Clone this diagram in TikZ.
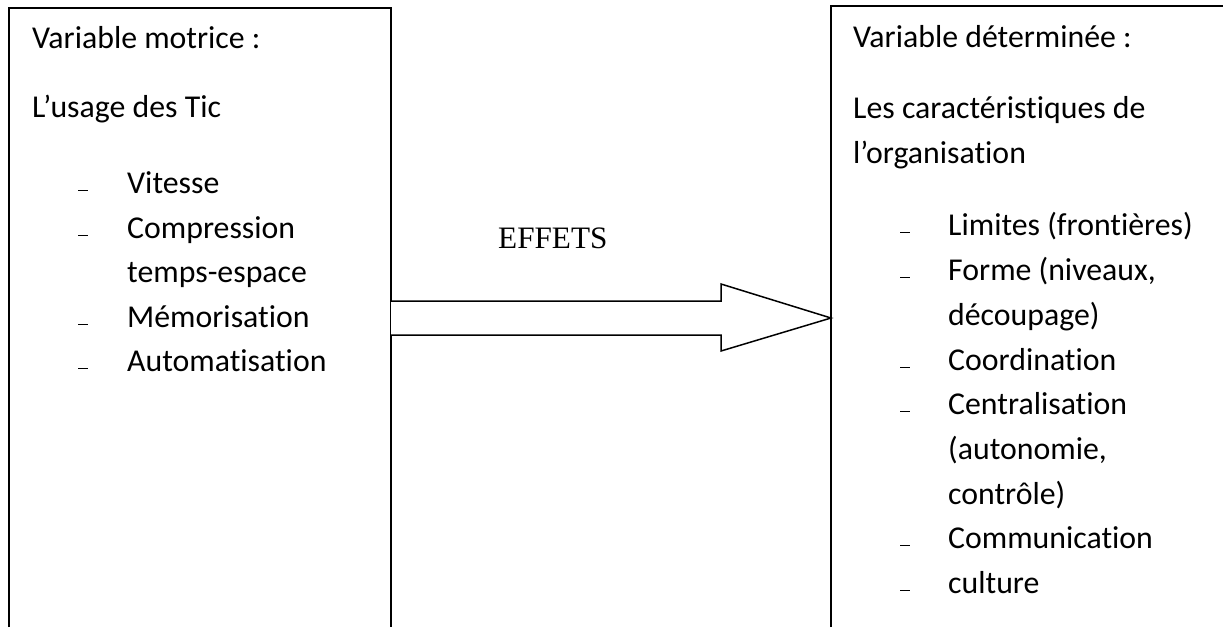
\documentclass[tikz,border=0pt]{standalone}
\usepackage{fontspec}
\setmainfont{Carlito}[Ligatures=NoCommon]
\newfontfamily\timesfont{Liberation Serif}
\begin{document}
\begin{tikzpicture}[x=1pt,y=-1pt,
  txt/.style={anchor=base west,inner sep=0pt,font=\fontsize{31.8}{44}\selectfont},
  frame/.style={line width=1.5pt,black},
  bul/.style={line width=1.6pt},
  arrowshape/.style={line width=1.5pt,fill=white,line join=miter}]
\useasboundingbox (0,0) rectangle (1223,627);
% boxes (open at the bottom / right)
\coordinate (Lbl) at (9,627);
\coordinate (Ltl) at (9,8);
\coordinate (Ltr) at (391,8);
\coordinate (Lbr) at (391,627);
\coordinate (Rbl) at (831,627);
\coordinate (Rtl) at (831,6);
\coordinate (Rtr) at (1223,6);
\draw[frame] (Lbl) -- (Ltl) -- (Ltr) -- (Lbr);
\draw[frame] (Rbl) -- (Rtl) -- (Rtr);
% block arrow
\coordinate (A1) at (391,301);
\coordinate (A2) at (721,301);
\coordinate (A3) at (721,284);
\coordinate (A4) at (831,318);
\coordinate (A5) at (721,351);
\coordinate (A6) at (721,335);
\coordinate (A7) at (391,335);
\draw[arrowshape] (A1) -- (A2) -- (A3) -- (A4) -- (A5) -- (A6) -- (A7);
\node[anchor=base west,inner sep=0pt,font=\timesfont\fontsize{31.2}{36}\selectfont] (effets) at (498,248) {EFFETS};
% left text
\node[txt] (l1) at (32,48) {Variable motrice :};
\node[txt] (l2) at (32,117) {L’usage des Tic};
\node[txt] (l3) at (127,193) {Vitesse};
\node[txt] (l4) at (127,238) {Compression};
\node[txt] (l5) at (127,282) {temps-espace};
\node[txt] (l6) at (127,327) {Mémorisation};
\node[txt] (l7) at (127,371) {Automatisation};
\foreach \y in {193,238,327,371} \draw[bul] (78,\y-2.5) -- (88,\y-2.5);
% right text
\node[txt] (r1) at (853,47) {Variable déterminée :};
\node[txt] (r2) at (853,118) {Les caractéristiques de};
\node[txt] (r3) at (853,163) {l’organisation};
\node[txt] (r4) at (948,235) {Limites (frontières)};
\node[txt] (r5) at (948,280) {Forme (niveaux,};
\node[txt] (r6) at (948,325) {découpage)};
\node[txt] (r7) at (948,370) {Coordination};
\node[txt] (r8) at (948,414) {Centralisation};
\node[txt] (r9) at (948,459) {(autonomie,};
\node[txt] (r10) at (948,504) {contrôle)};
\node[txt] (r11) at (948,548) {Communication};
\node[txt] (r12) at (948,593) {culture};
\foreach \y in {235,280,370,414,548,593} \draw[bul] (900,\y-2.5) -- (910,\y-2.5);
\end{tikzpicture}
\end{document}
